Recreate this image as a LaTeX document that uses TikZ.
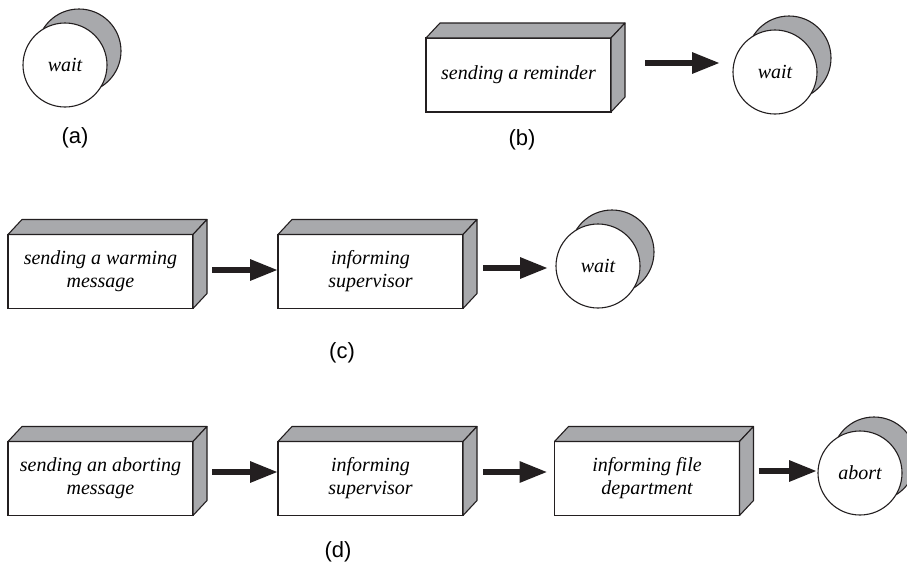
\documentclass[tikz,border=0pt]{standalone}
\usepackage{fontspec}
\setmainfont{Liberation Serif}
\newfontfamily\labelfont{Liberation Sans}
\usetikzlibrary{arrows.meta,backgrounds}
\definecolor{shade}{RGB}{168,169,172}
\definecolor{ink}{RGB}{35,31,32}
\begin{document}
\begin{tikzpicture}[x=1pt,y=-1pt,
  stepbox/.style={draw=ink, line width=1.1pt, fill=white, minimum width=185pt,
    minimum height=74pt, inner sep=0pt, outer sep=0pt, align=center,
    font=\fontsize{20}{23}\selectfont\itshape},
  state/.style={circle, draw=ink, line width=1.1pt, fill=white, minimum size=84pt,
    inner sep=0pt, outer sep=0pt, font=\fontsize{20}{23}\selectfont\itshape},
  side/.style={draw=ink, line width=1.1pt, fill=shade, line join=round},
  flow/.style={draw=ink, line width=6pt, -{Triangle[length=28pt,width=20pt]}},
  caption/.style={font=\labelfont\fontsize{22}{26}\selectfont}]
\useasboundingbox (0,0) rectangle (907,568);

% (a) a single waiting state
\node[state] (wa) at (65,65) {wait};
\node[caption] (la) at (75,138) {(a)};

% (b) reminder, then wait
\node[stepbox] (b) at (518.5,75) {sending a reminder};
\node[state] (wb) at (775,72) {wait};
\node[caption] (lb) at (522,140) {(b)};

% (c) warning, supervisor, then wait
\node[stepbox] (c1) at (100.5,271.5) {sending a warming\\message};
\node[stepbox] (c2) at (370.5,271.5) {informing\\supervisor};
\node[state] (wc) at (598,266) {wait};
\node[caption] (lc) at (342,353) {(c)};

% (d) abort chain
\node[stepbox] (d1) at (100.5,478.5) {sending an aborting\\message};
\node[stepbox] (d2) at (370.5,478.5) {informing\\supervisor};
\node[stepbox] (d3) at (647,478.5) {informing file\\department};
\node[state] (ab) at (860,473) {abort};
\node[caption] (ld) at (338,552) {(d)};

% shaded top and side faces of the boxes
\foreach \n in {b,c1,c2,d1,d2,d3}{
  \filldraw[side] (\n.north west) -- ([shift={(14,-15)}]\n.north west)
    -- ([shift={(14,-15)}]\n.north east) -- (\n.north east) -- cycle;
  \filldraw[side] (\n.north east) -- ([shift={(14,-15)}]\n.north east)
    -- ([shift={(14,-15)}]\n.south east) -- (\n.south east) -- cycle;
}

% shadow discs behind the states
\begin{scope}[on background layer]
  \foreach \n in {wa,wb,wc,ab}
    \filldraw[side] ([shift={(14,-14)}]\n.center) circle[radius=42pt];
\end{scope}

% arrows
\draw[flow] ([shift={(34,-12)}]b.east) -- ([shift={(-13,-9)}]wb.west);
\draw[flow] ([shift={(19,-1.5)}]c1.east) -- ([shift={(0,-1.5)}]c2.west);
\draw[flow] ([shift={(20,-3.5)}]c2.east) -- ([shift={(-8,2)}]wc.west);
\draw[flow] ([shift={(19,-6.5)}]d1.east) -- ([shift={(0,-6.5)}]d2.west);
\draw[flow] ([shift={(20,-6.5)}]d2.east) -- ([shift={(-7,-6.5)}]d3.west);
\draw[flow] ([shift={(19,-7.5)}]d3.east) -- ([shift={(-1,-2)}]ab.west);
\end{tikzpicture}
\end{document}
